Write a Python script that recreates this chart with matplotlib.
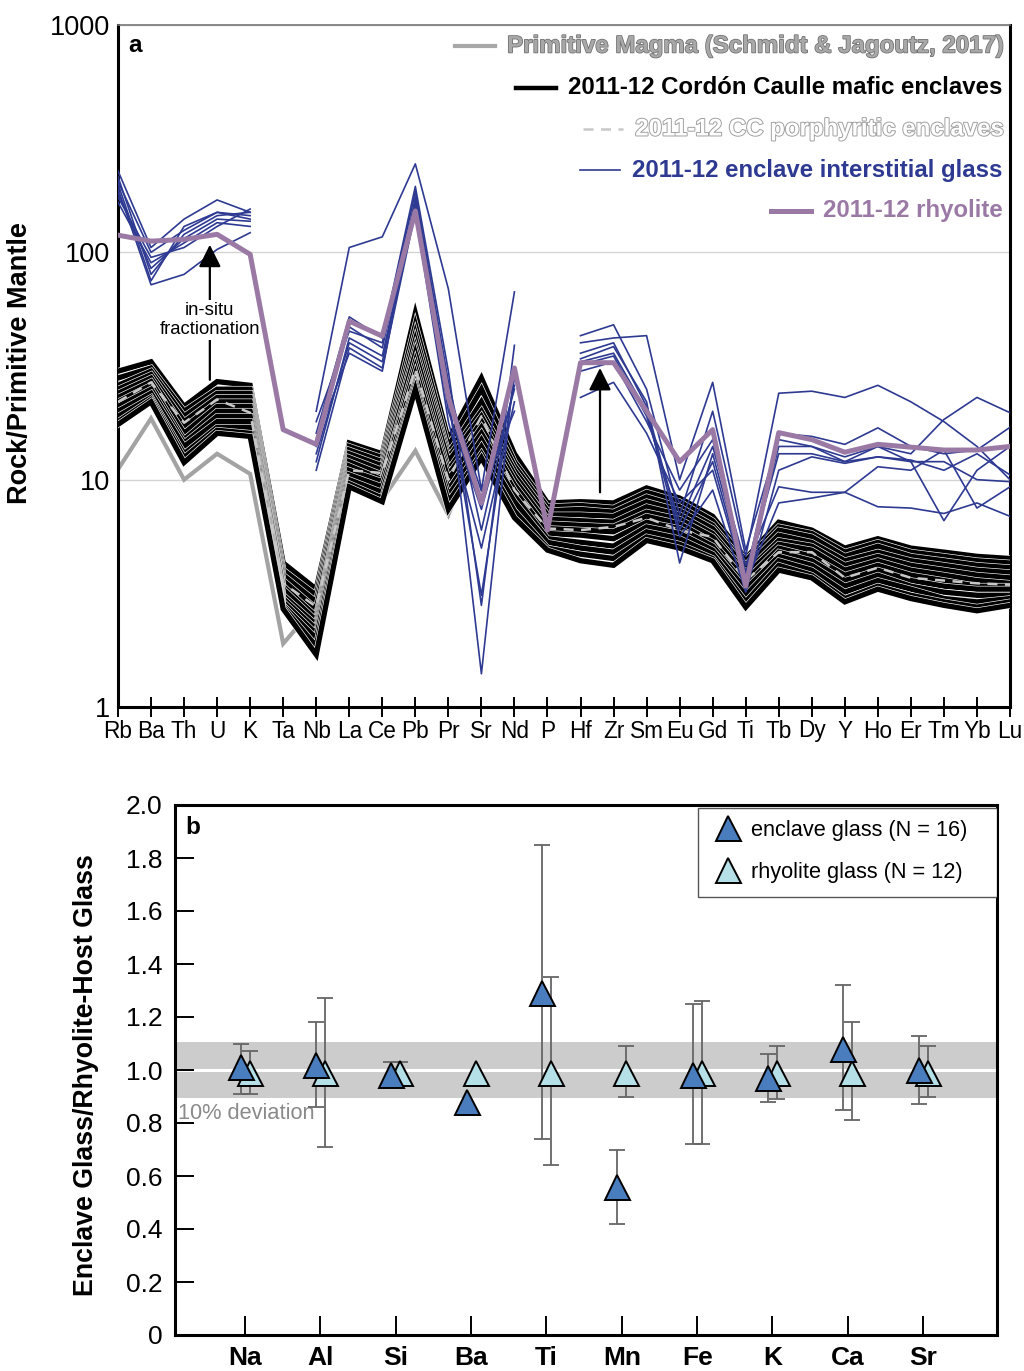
import numpy as np
import matplotlib
matplotlib.use("Agg")
import matplotlib.pyplot as plt
import matplotlib.patheffects as pe
from matplotlib.lines import Line2D
from matplotlib.patches import Rectangle

plt.rcParams['font.family'] = ['Liberation Sans', 'DejaVu Sans']

nan = np.nan

# ---------------- Panel a: trace elements normalised to primitive mantle ----------------
elements = ["Rb", "Ba", "Th", "U", "K", "Ta", "Nb", "La", "Ce", "Pb", "Pr", "Sr", "Nd", "P",
            "Hf", "Zr", "Sm", "Eu", "Gd", "Ti", "Tb", "Dy", "Y", "Ho", "Er", "Tm", "Yb", "Lu"]

primitive_magma = [11.1, 18.6, 10.0, 13.0, 10.6, 1.9, 2.8, 9.2, 8.2, 13.4, 7.0, 16.6, 6.8, 5.4,
                   4.8, 4.9, 5.6, 5.4, 4.6, 3.5, 4.1, 3.7, 3.35, 3.45, 3.3, 3.2, 3.0, 3.0]

mafic_enclaves = [
    [30, 33, 21, 27, 26, 4.3, 3.3, 14.5, 13, 54, 15, 28, 13, 7.9, 8.0, 7.9, 9.2, 8.3, 6.9, 4.5, 6.5, 6.0, 5.0, 5.5, 5.0, 4.8, 4.6, 4.5],
    [28, 31, 20, 25, 25, 4.0, 3.1, 14, 12.5, 48, 14, 25, 12, 7.6, 7.7, 7.5, 8.8, 8.0, 6.6, 4.4, 6.2, 5.8, 4.8, 5.3, 4.8, 4.6, 4.4, 4.3],
    [26, 30, 19, 24, 24, 3.8, 2.9, 13.5, 12, 44, 13, 22, 11.5, 7.3, 7.4, 7.2, 8.4, 7.6, 6.3, 4.2, 6.0, 5.6, 4.6, 5.1, 4.6, 4.4, 4.2, 4.1],
    [25, 29, 18, 23, 23, 3.6, 2.7, 13, 11.5, 41, 12.5, 20, 11, 7.0, 7.0, 6.9, 8.0, 7.3, 6.1, 4.1, 5.7, 5.3, 4.4, 4.8, 4.4, 4.2, 4.0, 3.9],
    [24, 28, 17, 22, 22, 3.4, 2.5, 12.5, 11, 38, 12, 19, 10.5, 6.7, 6.6, 6.5, 7.6, 7.0, 5.8, 3.9, 5.4, 5.1, 4.2, 4.6, 4.2, 4.0, 3.8, 3.7],
    [23, 27, 16, 21, 21, 3.3, 2.4, 12, 10.5, 36, 11, 18, 10, 6.4, 6.3, 6.2, 7.2, 6.7, 5.6, 3.8, 5.2, 4.9, 4.0, 4.4, 4.0, 3.8, 3.6, 3.5],
    [22, 26, 15, 20, 20, 3.1, 2.3, 11.5, 10, 33, 10.5, 17, 9.5, 6.1, 6.0, 5.9, 6.9, 6.4, 5.3, 3.6, 5.0, 4.6, 3.8, 4.2, 3.8, 3.6, 3.4, 3.4],
    [21, 25, 14.5, 19, 19, 3.0, 2.2, 11, 9.8, 31, 10, 16, 9, 5.8, 5.7, 5.5, 6.5, 6.1, 5.1, 3.4, 4.8, 4.4, 3.6, 4.0, 3.6, 3.4, 3.3, 3.3],
    [20, 24, 14, 18, 18, 2.9, 2.1, 10.5, 9.3, 29, 9, 15, 8.5, 5.5, 5.3, 5.1, 6.2, 5.8, 4.9, 3.3, 4.6, 4.2, 3.4, 3.8, 3.4, 3.2, 3.1, 3.1],
    [19, 23, 13, 17, 17, 2.8, 2.0, 10, 8.8, 27, 8.5, 14, 8, 5.3, 5.0, 4.8, 5.9, 5.5, 4.7, 3.1, 4.4, 4.0, 3.2, 3.6, 3.3, 3.0, 2.9, 3.0],
    [18, 22.5, 12.5, 16.5, 16, 2.75, 1.85, 9.6, 8.3, 26, 8, 13, 7.3, 5.0, 4.7, 4.5, 5.6, 5.2, 4.5, 2.9, 4.2, 3.8, 3.0, 3.4, 3.1, 2.9, 2.75, 2.9],
    [17.5, 22, 11.9, 16, 15.5, 2.7, 1.7, 9.3, 8.0, 25, 7.4, 12.5, 6.8, 4.9, 4.4, 4.2, 5.4, 5.0, 4.4, 2.75, 4.0, 3.7, 2.9, 3.3, 3.0, 2.8, 2.65, 2.8],
]

porphyritic_enclave = [22, 26.8, 17.8, 22.5, 19.7, 3.5, 2.76, 11, 10.7, 30.6, 10, 19, 9, 6.1,
                       6.0, 6.2, 6.8, 6.0, 5.6, 3.6, 4.8, 4.8, 3.7, 4.1, 3.7, 3.6, 3.5, 3.45]

interstitial_glass = [
    [228, 105, 140, 170, 150, nan, 20, 105, 117, 245, 69, 9, 67, nan, 43, 48, 25, 7, 20, 4.6, 24, 24.5, 23, 26, 22, 18, 14, 10],
    [200, 75, 130, 150, 140, nan, 16, 52, 42, 195, 30, 2.8, 39, nan, 40, 42, 43, 10, 26.8, 4.9, 15, 14, 12, 14, 13, 18.4, 23, 19.7],
    [183, 85, 115, 140, 137, nan, 14, 47, 38, 170, 25, 1.4, 31, nan, 34, 38.5, 22, 4.3, 13, 3.8, 16, 15.5, 14.3, 16.9, 14, 13, 13.5, 17],
    [166, 90, 110, 135, 130, nan, 12, 42, 35, 160, 22, 3.1, 28, nan, 33, 36, 20, 5.6, 9, 3.2, 11, 12.6, 11.8, 12.6, 12, 6.6, 11, 14],
    [215, 80, 120, 145, 150, nan, 13, 40, 33, 165, 20, 7.4, 25, nan, 32, 35, 19, 6.5, 14, 4.2, 9.3, 8.8, 8.8, 7.6, 7.5, 7.1, 7.9, 6.9],
    [190, 72, 80, 103, 122, nan, 11, 38, 31, 150, 18, 5, 22, nan, 23, 26.8, 16, 7.9, 11, 3.5, 7.9, 8.3, 8.8, 11.4, 11, 13.5, 7.5, 9.3],
    [175, 95, 105, 130, 155, nan, 15, 36, 30, 175, 24, 8.9, 20, nan, 30, 33, 18, 9, 15, 3.9, 13, 13, 12, 12.6, 12.2, 11, 13, 10.5],
    [205, 100, 125, 150, 145, nan, 18, 45, 40, 185, 27, 6, 26, nan, 36, 40, 21, 6, 12, 3.6, 14, 14, 12.6, 14, 12, 12, 10, 9.8],
]

rhyolite = [119, 112, 114, 120, 98, 16.6, 14.3, 49.8, 42.8, 152, 23, 7.9, 31, 6.0,
            32.7, 32.7, 20, 12, 16.6, 3.4, 16.1, 15, 13.2, 14.3, 13.9, 13.5, 13.5, 14]

# arrows: (x position between elements, start value, end value)
arrow_fractionation_left = (2.78, 27.5, 108)
arrow_fractionation_right = (14.59, 8.8, 31)

# ---------------- Panel b: major element ratios ----------------
oxides = ["Na", "Al", "Si", "Ba", "Ti", "Mn", "Fe", "K", "Ca", "Sr"]
enclave_ratio = [1.01, 1.02, 0.98, 0.88, 1.29, 0.56, 0.98, 0.97, 1.08, 1.00]
enclave_low = [0.91, 0.86, 0.95, nan, 0.74, 0.42, 0.72, 0.88, 0.85, 0.87]
enclave_high = [1.10, 1.18, 1.03, nan, 1.85, 0.70, 1.25, 1.06, 1.32, 1.13]
rhyolite_ratio = [0.99, 0.99, 0.99, 0.99, 0.99, 0.99, 0.99, 0.99, 0.99, 0.99]
rhyolite_low = [0.91, 0.71, 0.96, nan, 0.64, 0.90, 0.72, 0.89, 0.81, 0.90]
rhyolite_high = [1.07, 1.27, 1.03, nan, 1.35, 1.09, 1.26, 1.09, 1.18, 1.09]

# colours
C_PRIM = "#a3a3a3"
C_BLUE = "#2e3a92"
C_PURP = "#9a7aa5"
C_ENCL = "#4a7dbd"
C_RHYO = "#b5e0e8"

W, H = 1024, 1371
fig = plt.figure(figsize=(W / 100, H / 100), dpi=100)


def frac_box(x0, y0, x1, y1):
    return [x0 / W, 1 - y1 / H, (x1 - x0) / W, (y1 - y0) / H]


# ===================== Panel a =====================
ax = fig.add_axes(frac_box(118, 25, 1010, 707))
x = np.arange(len(elements))

ax.plot(x, primitive_magma, color=C_PRIM, lw=3.0, zorder=2, solid_joinstyle='miter')
for row in mafic_enclaves:
    ax.plot(x, row, color="black", lw=3.8, zorder=3, solid_joinstyle='miter',
            path_effects=[pe.Stroke(linewidth=4.7, foreground="white"), pe.Normal()])
ax.plot(x, porphyritic_enclave, color="#c8c8c8", lw=1.8, ls=(0, (4, 3)), zorder=4)
for row in interstitial_glass:
    ax.plot(x, row, color=C_BLUE, lw=1.2, zorder=5)
ax.plot(x, rhyolite, color=C_PURP, lw=3.6, zorder=9)

ax.set_yscale("log")
ax.set_ylim(1, 1000)
ax.set_xlim(0, len(elements) - 1)
ax.set_xticks(x)
ax.set_xticklabels(elements, fontsize=16.3)
ax.set_yticks([1, 10, 100, 1000])
ax.set_yticklabels(["1", "10", "100", "1000"], fontsize=19.5)
ax.yaxis.set_minor_locator(matplotlib.ticker.NullLocator())
ax.tick_params(axis="y", length=0, pad=6)
ax.tick_params(axis="x", direction="inout", length=14, width=1.4, pad=2)
ax.yaxis.grid(True, color="#d4d4d4", lw=1.0)
ax.set_axisbelow(True)
for s in ["left", "bottom", "right"]:
    ax.spines[s].set_linewidth(2.2)
ax.spines["top"].set_linewidth(1.2)
ax.spines["top"].set_color("#777777")
ax.set_ylabel("Rock/Primitive Mantle", fontsize=19.5, fontweight="bold")
ax.yaxis.set_label_coords(-0.095, 0.505)
ax.text(0.011, 0.97, "a", transform=ax.transAxes, fontsize=17.5, fontweight="bold",
        va="center", ha="left")

# fractionation arrows (the label interrupts the shaft of the left one)
ax_x, y0, y1 = arrow_fractionation_left
ax.annotate("", xy=(ax_x, y1), xytext=(ax_x, y0),
            arrowprops=dict(arrowstyle="-|>", color="black", lw=1.6, mutation_scale=34,
                            shrinkA=0, shrinkB=0), zorder=8)
ax.text(ax_x, 50.5, "in-situ\nfractionation", ha="center", va="center", fontsize=13.3,
        zorder=8.5, linespacing=1.15,
        bbox=dict(boxstyle="square,pad=0.12", fc="white", ec="none"))
ax_x, y0, y1 = arrow_fractionation_right
ax.annotate("", xy=(ax_x, y1), xytext=(ax_x, y0),
            arrowprops=dict(arrowstyle="-|>", color="black", lw=1.6, mutation_scale=34,
                            shrinkA=0, shrinkB=0), zorder=8)

# legend built from text and sample lines
legend_rows = [
    ("Primitive Magma (Schmidt & Jagoutz, 2017)", dict(color="#a8a8a8", lw=3.0),
     dict(color="#a8a8a8", path_effects=[pe.withStroke(linewidth=1.1, foreground="#6e6e6e")])),
    ("2011-12 Cordón Caulle mafic enclaves", dict(color="black", lw=3.2),
     dict(color="black")),
    ("2011-12 CC porphyritic enclaves", dict(color="#c8c8c8", lw=1.8, ls=(0, (4, 3))),
     dict(color="white", path_effects=[pe.withStroke(linewidth=1.4, foreground="#a0a0a0")])),
    ("2011-12 enclave interstitial glass", dict(color=C_BLUE, lw=1.2),
     dict(color=C_BLUE)),
    ("2011-12 rhyolite", dict(color=C_PURP, lw=3.6),
     dict(color=C_PURP)),
]
legend_y_px = [46, 88, 129, 170, 211]
fig.canvas.draw()
renderer = fig.canvas.get_renderer()
for (label, line_kw, text_kw), ypx in zip(legend_rows, legend_y_px):
    yf = 1 - (ypx - 25) / 682
    t = ax.text(0.992, yf, label, transform=ax.transAxes, ha="right", va="center",
                fontsize=17.3, fontweight="bold", zorder=10, **text_kw)
    bb = t.get_window_extent(renderer=renderer)
    x_start = ax.transAxes.inverted().transform((bb.x0, bb.y0))[0]
    gap = 12 / 892
    length = 40 / 892
    ax.add_line(Line2D([x_start - gap - length, x_start - gap], [yf, yf],
                       transform=ax.transAxes, zorder=10, **line_kw))

# ===================== Panel b =====================
bx = fig.add_axes(frac_box(175, 805, 997, 1335))
xb = np.arange(len(oxides))
off_e, off_r = -0.06, 0.06

bx.axhspan(0.895, 1.105, color="#cccccc", lw=0, zorder=0)
bx.axhline(1.0, color="white", lw=2.2, zorder=1)
bx.text(0.004, 0.835, "10% deviation", transform=bx.get_yaxis_transform(), color="#8a8a8a",
        fontsize=15.7, ha="left", va="center", zorder=1)


def draw_errors(xpos, vals, lo, hi):
    vals = np.array(vals); lo = np.array(lo); hi = np.array(hi)
    ok = np.isfinite(lo) & np.isfinite(hi)
    bx.errorbar(np.asarray(xpos)[ok], vals[ok], yerr=[vals[ok] - lo[ok], hi[ok] - vals[ok]],
                fmt="none", ecolor="#666666", elinewidth=1.3, capsize=6, capthick=1.3, zorder=2)


draw_errors(xb + off_r, rhyolite_ratio, rhyolite_low, rhyolite_high)
draw_errors(xb + off_e, enclave_ratio, enclave_low, enclave_high)
bx.plot(xb + off_r, rhyolite_ratio, ls="none", marker="^", ms=18, mfc=C_RHYO, mec="black",
        mew=1.4, zorder=3)
bx.plot(xb + off_e, enclave_ratio, ls="none", marker="^", ms=18, mfc=C_ENCL, mec="black",
        mew=1.4, zorder=4)

bx.set_xlim(-0.93, len(oxides) - 0.02)
bx.set_ylim(0, 2.0)
bx.set_xticks(xb)
bx.set_xticklabels(oxides, fontsize=19, fontweight="bold")
bx.set_yticks(np.arange(0, 2.01, 0.2))
bx.set_yticklabels(["0"] + [f"{v:.1f}" for v in np.arange(0.2, 2.01, 0.2)], fontsize=19)
bx.tick_params(axis="both", direction="in", length=14, width=1.4)
bx.tick_params(axis="y", pad=9)
bx.tick_params(axis="x", pad=8)
for s in ["left", "bottom", "right", "top"]:
    bx.spines[s].set_linewidth(2.2)
bx.set_ylabel("Enclave Glass/Rhyolite-Host Glass", fontsize=19.3, fontweight="bold")
bx.yaxis.set_label_coords(-0.092, 0.49)
bx.text(0.012, 0.958, "b", transform=bx.transAxes, fontsize=17.5, fontweight="bold",
        va="center", ha="left")

# legend: frame drawn separately so it can be wider than its entries
frame_x0, frame_x1 = (698 - 175) / 822, (997 - 175) / 822
frame_y0, frame_y1 = 1 - (897 - 805) / 530, 1 - (808 - 805) / 530
bx.add_patch(Rectangle((frame_x0, frame_y0), frame_x1 - frame_x0, frame_y1 - frame_y0,
                       transform=bx.transAxes, fc="white", ec="#555555", lw=1.0, zorder=6))
handles = [
    Line2D([], [], ls="none", marker="^", ms=18, mfc=C_ENCL, mec="black", mew=1.4),
    Line2D([], [], ls="none", marker="^", ms=18, mfc=C_RHYO, mec="black", mew=1.4),
]
leg = bx.legend(handles, ["enclave glass (N = 16)", "rhyolite glass (N = 12)"],
                loc="upper left", bbox_to_anchor=(frame_x0 + 2 / 822, frame_y1),
                borderaxespad=0, fontsize=15.7, frameon=False,
                handletextpad=0.3, labelspacing=0.95, borderpad=0.55, handlelength=1.5)
leg.set_zorder(7)

fig.savefig("out.png", dpi=100)
